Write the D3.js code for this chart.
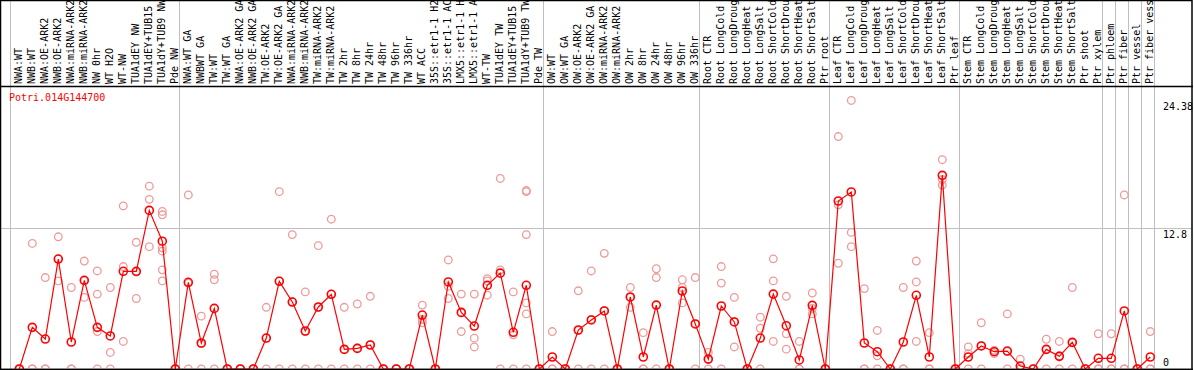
<!DOCTYPE html>
<html>
<head>
<meta charset="utf-8">
<script src="https://cdn.jsdelivr.net/npm/d3@7"></script>
<style>
  html, body { margin: 0; padding: 0; background: #fff; }
  svg { display: block; }
  text { font-family: "DejaVu Sans Mono", monospace; font-size: 10px; }
</style>
</head>
<body>
<div id="chart"></div>
<script>
// Sample labels, one per column (as far as they are shown in the header)
const samples = [
  'NWA:WT', 'NWB:WT', 'NWA:OE-ARK2', 'NWB:OE-ARK2', 'NWA:miRNA-ARK2', 'NWB:miRNA-ARK2',
  'NW 0hr', 'WT H2O', 'WT-NW', 'TUA1dEY NW', 'TUA1dEY+TUB15', 'TUA1dY+TUB9 NW', 'Pde NW',
  'NWA:WT GA', 'NWBWT GA', 'TW:WT', 'TW:WT GA', 'NWA:OE-ARK2 GA', 'NWB:OE-ARK2 GA',
  'TW:OE-ARK2', 'TW:OE-ARK2 GA', 'NWA:miRNA-ARK2', 'NWB:miRNA-ARK2', 'TW:miRNA-ARK2',
  'TW:miRNA-ARK2', 'TW 2hr', 'TW 8hr', 'TW 24hr', 'TW 48hr', 'TW 96hr', 'TW 336hr', 'WT ACC',
  '35S::etr1-1 H2', '35S::etr1-1 AC', 'LMX5::etr1-1 H', 'LMX5::etr1-1 A', 'WT-TW',
  'TUA1dEY TW', 'TUA1dEY+TUB15', 'TUA1dY+TUB9 TW', 'Pde TW',
  'OW:WT', 'OW:WT GA', 'OW:OE-ARK2', 'OW:OE-ARK2 GA', 'OW:miRNA-ARK2', 'OW:miRNA-ARK2',
  'OW 2hr', 'OW 8hr', 'OW 24hr', 'OW 48hr', 'OW 96hr', 'OW 336hr',
  'Root CTR', 'Root LongCold', 'Root LongDroug', 'Root LongHeat', 'Root LongSalt',
  'Root ShortCold', 'Root ShortDrou', 'Root ShortHeat', 'Root ShortSalt', 'Ptr root',
  'Leaf CTR', 'Leaf LongCold', 'Leaf LongDroug', 'Leaf LongHeat', 'Leaf LongSalt',
  'Leaf ShortCold', 'Leaf ShortDrou', 'Leaf ShortHeat', 'Leaf ShortSalt', 'Ptr leaf',
  'Stem CTR', 'Stem LongCold', 'Stem LongDroug', 'Stem LongHeat', 'Stem LongSalt',
  'Stem ShortCold', 'Stem ShortDrou', 'Stem ShortHeat', 'Stem ShortSalt', 'Ptr shoot',
  'Ptr xylem', 'Ptr phloem', 'Ptr fiber', 'Ptr vessel', 'Ptr fiber vess'
];

// Column index where each group starts (last entry closes the final group)
const groupStarts = [0, 13, 41, 53, 63, 73, 84, 85, 86, 87, 88];

// Mean expression per sample
const means = [
  0, 3.78, 2.72, 9.98, 2.45, 8.05, 3.78, 3.0, 8.87, 8.87, 14.4, 11.6, 0,
  7.87, 2.36, 5.5, 0, 0, 0, 2.81, 7.96, 6.08, 3.45, 5.63, 6.78, 1.78, 1.87, 2.18,
  0, 0, 0, 4.9, 0, 7.9, 5.14, 3.9, 7.6, 8.7, 3.33, 7.6, 0,
  1.09, 0, 3.54, 4.45, 5.27, 0, 6.54, 1.09, 5.8, 0, 7.08, 4.09,
  0.9, 5.72, 4.27, 0, 2.81, 6.8, 3.93, 0.82, 5.78, 0,
  15.25, 16.07, 2.36, 1.57, 0, 2.45, 6.69, 1.09, 17.58, 0,
  1.09, 2.09, 1.57, 1.63, 0.27, 0, 1.78, 1.15, 2.42, 0, 0.97,
  0.97, 5.27, 0, 1.09
];

// Replicate values per sample
const replicates = [
  [0, 0, 0], [11.4, 0, 0], [8.3, 0, 0], [12.0, 10.0, 8.0], [7.4, 0, 0], [9.8, 8.0, 6.5],
  [8.9, 6.8, 3.4, 0], [7.4, 1.5, 0], [14.8, 9.3, 2.5], [11.5, 8.8, 6.4], [16.6, 15.4, 11.1],
  [14.3, 14.0, 11.0, 10.7, 9.0, 8.0], [0, 0, 0],
  [15.8, 7.8, 0], [4.8, 2.3, 0], [8.6, 8.1, 0], [0, 0, 0], [0, 0, 0], [0, 0, 0],
  [5.6, 2.8, 0], [16.1, 8.0, 0], [12.2, 6.1, 0], [7.0, 3.4, 0], [11.2, 5.6, 0],
  [13.6, 6.8, 0], [5.6, 1.8, 0], [5.9, 1.9, 0], [6.6, 2.2, 0], [0, 0, 0], [0, 0, 0],
  [0, 0, 0], [5.8, 4.5, 4.2], [0, 0, 0], [9.9, 7.5, 6.4], [6.8, 5.1, 3.4],
  [6.8, 2.8, 2.0], [8.2, 8.0, 6.7], [17.3, 9.0, 0], [7.0, 3.1, 0],
  [16.1, 16.2, 12.2, 6.0, 5.0, 0], [0, 0, 0],
  [3.4, 0, 0], [0, 0, 0], [7.1, 3.5, 0], [8.9, 4.5, 0], [10.5, 5.3, 0], [0, 0, 0],
  [7.4, 6.5, 5.6], [3.3, 0, 0], [9.1, 8.3, 0], [0, 0, 0], [8.1, 7.4, 6.0], [8.3, 4.1, 0],
  [1.5, 0.9, 0], [9.3, 7.8, 0], [6.5, 4.3, 2.0], [0, 0, 0], [4.7, 3.7, 0],
  [10.0, 8.0, 2.5], [6.6, 3.2, 1.8], [2.5, 0, 0], [6.9, 5.5, 5.0], [0, 0, 0],
  [21.1, 14.9, 9.6], [24.38, 12.4, 11.1], [7.3, 0, 0], [3.5, 1.2, 0], [0, 0, 0],
  [7.4, 0, 0], [9.8, 7.9, 2.5], [3.3, 0, 0], [19.0, 17.2, 16.7], [0, 0, 0],
  [2.0, 1.4, 0], [4.2, 2.1, 0], [1.7, 1.6, 1.4], [5.0, 1.6, 0], [0.9, 0, 0], [0, 0, 0],
  [2.7, 1.8, 0], [2.5, 1.2, 0], [7.4, 2.4, 0], [0, 0, 0], [3.2, 0, 0],
  [3.2, 0, 0], [15.8, 0, 0], [0, 0, 0], [3.4, 0, 0]
];

const geneName = 'Potri.014G144700';
const gridValues = [12.8];
const tickLabels = [0, 12.8, 24.38];
const yMax = 25.6;

// Layout
const width = 1194, height = 370;
const left = 1, right = 1192;
const headerBottom = 86, plotBottom = 369;
const colStep = 13, firstCol = 19.3;

const x = d3.scaleLinear()
  .domain([0, samples.length - 1])
  .range([firstCol, firstCol + colStep * (samples.length - 1)]);
const y = d3.scaleLinear().domain([0, yMax]).range([plotBottom, 87]);
const boundary = i => x(i) - 9.3;

const svg = d3.select('#chart').append('svg')
  .attr('width', width).attr('height', height);

svg.append('rect').attr('width', width).attr('height', height).attr('fill', '#fff');

svg.append('defs').append('clipPath').attr('id', 'plotclip')
  .append('rect')
  .attr('x', left).attr('y', headerBottom)
  .attr('width', right - left).attr('height', plotBottom - headerBottom);

// Vertical group separators (through header too)
svg.append('g').selectAll('line').data(groupStarts).join('line')
  .attr('x1', d => boundary(d) + 0.5).attr('x2', d => boundary(d) + 0.5)
  .attr('y1', 0).attr('y2', plotBottom)
  .attr('stroke', '#c0c0c0').attr('stroke-width', 1);

// Horizontal grid
svg.append('g').selectAll('line').data(gridValues).join('line')
  .attr('x1', left).attr('x2', right)
  .attr('y1', d => Math.round(y(d)) + 0.5).attr('y2', d => Math.round(y(d)) + 0.5)
  .attr('stroke', '#c0c0c0').attr('stroke-width', 1);

// Rotated sample labels
svg.append('g').selectAll('text').data(samples).join('text')
  .attr('transform', (d, i) => `translate(${x(i) + 3},84) rotate(-90)`)
  .attr('fill', '#000')
  .text(d => d);

// Frame
svg.append('rect')
  .attr('x', 0.5).attr('y', 0.5)
  .attr('width', right - 0.5).attr('height', plotBottom)
  .attr('fill', 'none').attr('stroke', '#000').attr('stroke-width', 1.5);
svg.append('line')
  .attr('x1', 0).attr('x2', right + 1)
  .attr('y1', headerBottom + 0.5).attr('y2', headerBottom + 0.5)
  .attr('stroke', '#000').attr('stroke-width', 1.5);

const plot = svg.append('g').attr('clip-path', 'url(#plotclip)');

// Replicate points
const repPoints = [];
replicates.forEach((vals, i) => vals.forEach(v => repPoints.push({ i, v })));
plot.append('g').selectAll('circle').data(repPoints).join('circle')
  .attr('cx', d => x(d.i)).attr('cy', d => y(d.v))
  .attr('r', 3.8)
  .attr('fill', 'none').attr('stroke', '#ee9a9a').attr('stroke-width', 1.3);

// Mean line
const line = d3.line().x((d, i) => x(i)).y(d => y(d));
plot.append('path').datum(means)
  .attr('d', line)
  .attr('fill', 'none').attr('stroke', '#ff0000').attr('stroke-width', 1.2);

plot.append('g').selectAll('circle').data(means).join('circle')
  .attr('cx', (d, i) => x(i)).attr('cy', d => y(d))
  .attr('r', 4)
  .attr('fill', 'none').attr('stroke', '#ff0000').attr('stroke-width', 1.6);

// Gene name
svg.append('text')
  .attr('x', 9).attr('y', 101)
  .attr('fill', '#ff0000')
  .text(geneName);

// Y value labels on the right
svg.append('g').selectAll('text').data(tickLabels).join('text')
  .attr('x', 1163)
  .attr('y', d => Math.min(y(d) + 9.5, 366))
  .attr('fill', '#000')
  .text(d => d);

// Redraw bottom border on top of the clipped markers
svg.append('line')
  .attr('x1', 0).attr('x2', right + 1)
  .attr('y1', plotBottom + 0.5).attr('y2', plotBottom + 0.5)
  .attr('stroke', '#000').attr('stroke-width', 1.5);
</script>
</body>
</html>
